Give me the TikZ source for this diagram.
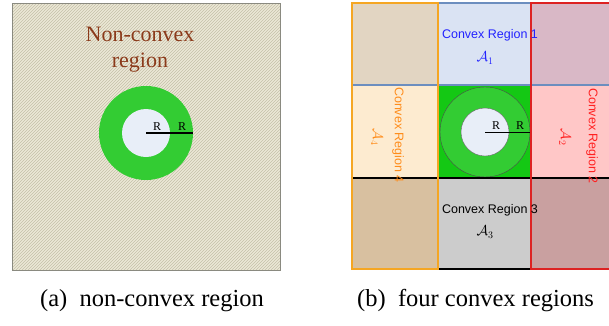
\documentclass[tikz,border=0pt]{standalone}
\usepackage{fontspec}
\setmainfont{Liberation Serif}
\setsansfont{Liberation Sans}
\usetikzlibrary{patterns}

\definecolor{hatchbg}{HTML}{ECE8D6}
\definecolor{hatchline}{HTML}{C4C0A8}
\definecolor{panelgray}{HTML}{8A8A80}
\definecolor{textbrown}{HTML}{8B3A1A}
\definecolor{ringgreen}{HTML}{33CC33}
\definecolor{cellgreen}{HTML}{14C814}
\definecolor{holeblue}{HTML}{E8EEF8}
\definecolor{regionblue}{HTML}{6C8EBF}
\definecolor{regionorange}{HTML}{F5A623}
\definecolor{regionred}{HTML}{DD2222}
\definecolor{labelblue}{HTML}{2222FF}
\definecolor{labelorange}{HTML}{FF8C1A}
\definecolor{labelred}{HTML}{FF2020}
% cell colours
\definecolor{cellTL}{HTML}{E2D5C2}
\definecolor{cellTM}{HTML}{DAE3F3}
\definecolor{cellTR}{HTML}{D9B8C6}
\definecolor{cellML}{HTML}{FDEBD0}
\definecolor{cellMR}{HTML}{FFC7C7}
\definecolor{cellBL}{HTML}{D8C0A0}
\definecolor{cellBM}{HTML}{CCCCCC}
\definecolor{cellBR}{HTML}{C9A0A0}

\tikzset{
  rlabel/.style={font=\fontsize{12}{14}\selectfont, inner sep=0pt},
  regionlabel/.style={font=\sffamily\fontsize{12.5}{15}\selectfont, inner sep=0pt},
  setlabel/.style={font=\fontsize{14}{16}\selectfont, inner sep=0pt},
  caption/.style={font=\fontsize{24.5}{28}\selectfont, inner sep=0pt}
}

\begin{document}
\begin{tikzpicture}[x=1pt, y=-1pt]
  \clip (0,0) rectangle (609,325);

  % Left panel: hatched non-convex region
  \fill[hatchbg] (12,3) rectangle (280,270);
  \fill[pattern=north east lines, pattern color=hatchline] (12,3) rectangle (280,270);
  \draw[panelgray] (12,3) rectangle (280,270);
  \node[font=\fontsize{22}{26}\selectfont, text=textbrown, align=center] (nonconvex) at (140,50) {Non-convex\\region};

  % Ring
  \coordinate (ca) at (146,133);
  \fill[ringgreen] (ca) circle (47pt);
  \fill[holeblue] (ca) circle (24pt);
  \draw[line width=1.2pt] (ca) -- ++(47,0) coordinate (ra);
  \node[rlabel] (ra1) at (157,127) {R};
  \node[rlabel] (ra2) at (182,127) {R};

  % Right panel: cells
  \fill[cellTL] (352,3) rectangle (438,85);
  \fill[cellTM] (438,3) rectangle (531,85);
  \fill[cellTR] (531,3) rectangle (625,85);
  \fill[cellML] (352,85) rectangle (438,178);
  \fill[cellgreen] (438,85) rectangle (531,178);
  \fill[cellMR] (531,85) rectangle (625,178);
  \fill[cellBL] (352,178) rectangle (438,269);
  \fill[cellBM] (438,178) rectangle (531,269);
  \fill[cellBR] (531,178) rectangle (625,269);

  % Ring in the middle cell
  \coordinate (cb) at (485,132);
  \filldraw[fill=ringgreen, draw=black!70, line width=0.4pt] (cb) circle (45pt);
  \filldraw[fill=holeblue, draw=black!60, line width=0.4pt] (cb) circle (24pt);
  \draw[line width=0.8pt] (cb) -- ++(45,0) coordinate (rb);
  \node[rlabel] (rb1) at (496,126) {R};
  \node[rlabel] (rb2) at (520,126) {R};

  % Region borders
  \draw[regionblue, line width=1.5pt] (352,3) rectangle (625,85);
  \draw[black, line width=1.5pt] (352,178) rectangle (625,269);
  \draw[regionred, line width=1.5pt] (531,3) rectangle (625,269);
  \draw[regionorange, line width=2pt] (352,3) rectangle (438,269);

  % Region labels
  \node[regionlabel, text=labelblue] (reg1) at (490,35) {Convex Region 1};
  \node[setlabel, text=labelblue] (set1) at (485,58) {$\mathcal{A}_1$};
  \node[regionlabel, text=labelred, rotate=-90] (reg2) at (592,136) {Convex Region 2};
  \node[setlabel, text=labelred, rotate=-90] (set2) at (565,137) {$\mathcal{A}_2$};
  \node[regionlabel] (reg3) at (490,210) {Convex Region 3};
  \node[setlabel] (set3) at (485,232) {$\mathcal{A}_3$};
  \node[regionlabel, text=labelorange, rotate=-90] (reg4) at (398,135) {Convex Region 4};
  \node[setlabel, text=labelorange, rotate=-90] (set4) at (377,137) {$\mathcal{A}_4$};

  % Captions
  \node[caption] (capa) at (152,301) {(a)~~non-convex region};
  \node[caption, anchor=west] (capb) at (357,301) {(b)~~four convex regions};
\end{tikzpicture}
\end{document}
